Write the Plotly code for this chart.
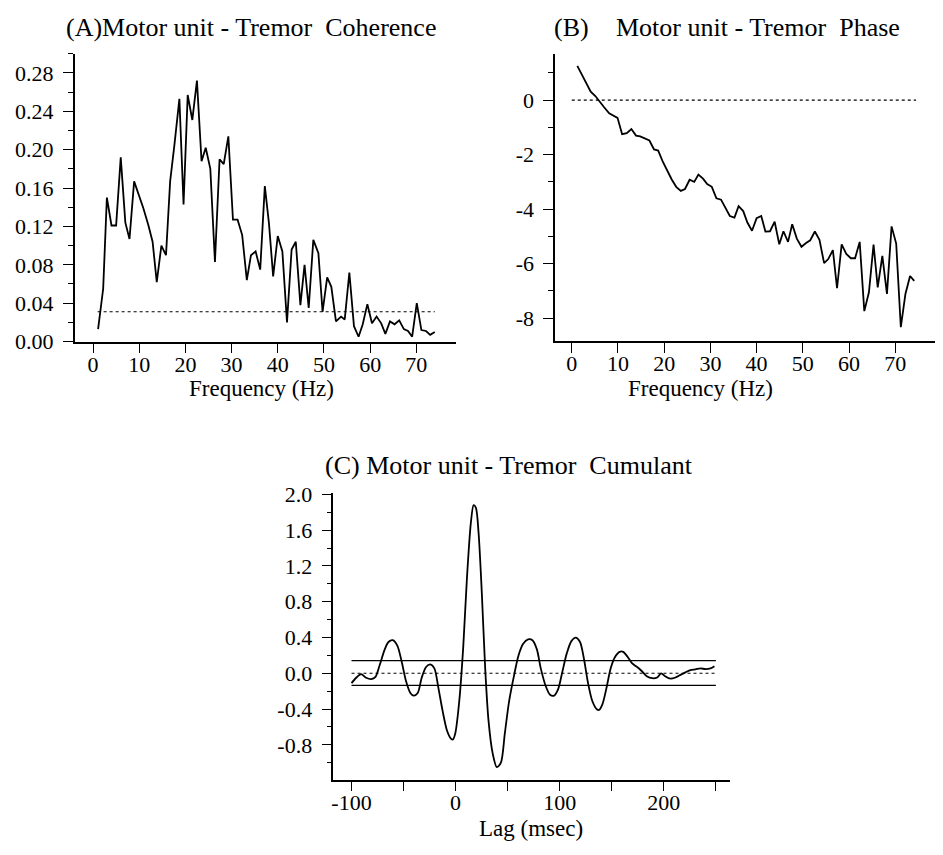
import plotly.graph_objects as go

W, H = 943, 855

# ---------------- data ----------------
coh_freq = [1.1, 2.2, 3.0, 4.0, 5.0, 6.0, 7.0, 7.9, 8.9, 9.9,
            10.9, 12.0, 12.9, 13.8, 14.8, 15.8, 16.7, 17.6, 18.7, 19.6,
            20.5, 21.5, 22.5, 23.5, 24.4, 25.4, 26.4, 27.4, 28.3, 29.3,
            30.3, 31.3, 32.3, 33.3, 34.2, 35.2, 36.2, 37.2, 38.1, 39.0,
            40.0, 41.0, 42.0, 43.0, 43.9, 44.9, 45.8, 46.7, 47.7, 48.8,
            49.7, 50.7, 51.6, 52.6, 53.7, 54.5, 55.5, 56.5, 57.5, 58.4,
            59.4, 60.4, 61.4, 62.4, 63.3, 64.3, 65.3, 66.3, 67.3, 68.2,
            69.1, 70.1, 71.1, 72.1, 73.0, 74.0]
coh_vals = [0.013, 0.055, 0.150, 0.121, 0.121, 0.192, 0.124, 0.107, 0.167, 0.153,
            0.139, 0.121, 0.104, 0.062, 0.100, 0.090, 0.167, 0.204, 0.253, 0.143,
            0.257, 0.231, 0.272, 0.188, 0.202, 0.180, 0.083, 0.190, 0.185, 0.214,
            0.127, 0.127, 0.111, 0.064, 0.090, 0.094, 0.075, 0.162, 0.123, 0.068,
            0.110, 0.094, 0.020, 0.096, 0.104, 0.038, 0.080, 0.035, 0.106, 0.092,
            0.031, 0.067, 0.057, 0.021, 0.026, 0.023, 0.072, 0.016, 0.005, 0.018,
            0.039, 0.019, 0.026, 0.019, 0.008, 0.021, 0.018, 0.022, 0.013, 0.011,
            0.005, 0.040, 0.012, 0.011, 0.007, 0.010]
coh_limit = 0.031
coh_limit_x = [1.0, 74.0]

phase_freq = [1.2, 2.2, 3.2, 4.1, 5.1, 6.1, 7.0, 8.1, 9.0, 9.9,
              10.9, 11.9, 12.9, 13.9, 14.8, 15.8, 16.8, 17.8, 18.7, 19.7,
              20.6, 21.6, 22.6, 23.6, 24.5, 25.5, 26.5, 27.4, 28.4, 29.3,
              30.3, 31.3, 32.3, 33.2, 34.2, 35.2, 36.1, 37.1, 38.0, 39.0,
              40.0, 41.0, 41.9, 42.9, 43.9, 44.9, 45.8, 46.8, 47.7, 48.7,
              49.7, 50.7, 51.6, 52.6, 53.6, 54.6, 55.5, 56.5, 57.4, 58.4,
              59.4, 60.4, 61.3, 62.3, 63.3, 64.3, 65.3, 66.2, 67.2, 68.2,
              69.2, 70.2, 71.2, 72.2, 73.2, 74.1]
phase_vals = [1.26, 0.93, 0.60, 0.31, 0.15, -0.08, -0.26, -0.48, -0.56, -0.65,
              -1.25, -1.21, -1.06, -1.30, -1.33, -1.42, -1.48, -1.81, -1.85, -2.26,
              -2.58, -2.90, -3.18, -3.33, -3.26, -2.92, -3.00, -2.73, -2.88, -3.08,
              -3.18, -3.60, -3.65, -3.95, -4.25, -4.31, -3.89, -4.07, -4.49, -4.79,
              -4.33, -4.25, -4.82, -4.81, -4.46, -5.29, -4.81, -5.20, -4.55, -5.08,
              -5.38, -5.24, -5.14, -4.82, -5.12, -5.98, -5.83, -5.50, -6.90, -5.29,
              -5.64, -5.80, -5.80, -5.20, -7.74, -7.05, -5.30, -6.87, -5.71, -7.11,
              -4.63, -5.26, -8.33, -7.11, -6.45, -6.63]
phase_ref = 0.0
phase_ref_x = [0.0, 74.5]

lag_ms = [-100, -95.5, -90.7, -86, -81, -77, -73, -68, -64.5, -60.4,
          -56, -51.8, -47.6, -43.5, -40.3, -36.4, -32.6, -28.4, -24.3, -20.4,
          -16.6, -12.5, -8.3, -4.5, -2.6, -0.3, 3.5, 7.3, 10.9, 14.7,
          17.3, 19.5, 22.0, 25.2, 28.4, 31.6, 35.5, 39.6, 43.5, 47.3,
          51.4, 56.2, 60.4, 64.9, 69.6, 73.8, 78, 81.8, 86.6, 90.7,
          94.6, 98.4, 102.6, 106.7, 111.2, 115.3, 119.5, 123.3, 127.2, 131.3,
          135.5, 137.7, 140.9, 145, 148.9, 153, 157.5, 161, 165.5, 169.6,
          174.4, 179.2, 184, 188.8, 193.6, 197.4, 201.6, 206.4, 211.2, 216,
          220.8, 225.6, 230.4, 235.2, 240, 244.8, 248.6]
cum_vals = [-0.11, -0.05, -0.01, -0.05, -0.065, -0.04, 0.09, 0.27, 0.35, 0.37,
            0.31, 0.13, -0.09, -0.22, -0.25, -0.22, -0.05, 0.07, 0.10, 0.055,
            -0.16, -0.42, -0.64, -0.73, -0.74, -0.67, -0.31, 0.29, 1.07, 1.69,
            1.88, 1.85, 1.58, 0.89, 0.055, -0.53, -0.89, -1.05, -1.0, -0.67,
            -0.31, -0.02, 0.20, 0.33, 0.38, 0.37, 0.27, 0.055, -0.145, -0.24,
            -0.25, -0.18, 0.02, 0.22, 0.36, 0.40, 0.35, 0.16, -0.11, -0.31,
            -0.40, -0.41, -0.35, -0.16, 0.055, 0.18, 0.24, 0.24, 0.18, 0.11,
            0.07, 0.02, -0.036, -0.055, -0.047, 0.0, -0.036, -0.06, -0.047, -0.018,
            0.01, 0.036, 0.044, 0.055, 0.047, 0.055, 0.08]
cum_upper = 0.142
cum_lower = -0.135
cum_ref_x = [-100, 250]

freq_ticks = [0, 10, 20, 30, 40, 50, 60, 70]
coh_ticks = [0.0, 0.04, 0.08, 0.12, 0.16, 0.20, 0.24, 0.28]
coh_ticktext = ["0.00", "0.04", "0.08", "0.12", "0.16", "0.20", "0.24", "0.28"]
phase_ticks = [0, -2, -4, -6, -8]
phase_ticktext = ["0", "-2", "-4", "-6", "-8"]
cum_ticks = [-0.8, -0.4, 0.0, 0.4, 0.8, 1.2, 1.6, 2.0]
cum_ticktext = ["-0.8", "-0.4", "0.0", "0.4", "0.8", "1.2", "1.6", "2.0"]
lag_ticks = [-100, -50, 0, 50, 100, 150, 200, 250]
lag_ticktext = ["-100", "", "0", "", "100", "", "200", ""]

titles = {
    "A": "(A)Motor unit - Tremor\u00a0\u00a0Coherence",
    "B_tag": "(B)",
    "B": "Motor unit - Tremor\u00a0\u00a0Phase",
    "C": "(C) Motor unit - Tremor\u00a0\u00a0Cumulant",
}
freq_label = "Frequency (Hz)"
lag_label = "Lag (msec)"

# ---------------- figure ----------------
FONT = "Liberation Serif, Times New Roman, serif"
LINE = dict(color="black", width=1.8)
DASH = dict(color="black", width=1.1, dash="3px,3px")


def px_x(p):
    return p / W


def px_y(p):
    return 1 - p / H


fig = go.Figure()

# Panel A
fig.add_trace(go.Scatter(x=coh_freq, y=coh_vals, mode="lines", line=LINE,
                         xaxis="x", yaxis="y", showlegend=False))
fig.add_trace(go.Scatter(x=coh_limit_x, y=[coh_limit] * 2, mode="lines", line=DASH,
                         xaxis="x", yaxis="y", showlegend=False))
# Panel B
fig.add_trace(go.Scatter(x=phase_freq, y=phase_vals, mode="lines", line=LINE,
                         xaxis="x2", yaxis="y2", showlegend=False))
fig.add_trace(go.Scatter(x=phase_ref_x, y=[phase_ref] * 2, mode="lines", line=DASH,
                         xaxis="x2", yaxis="y2", showlegend=False))
# Panel C
fig.add_trace(go.Scatter(x=lag_ms, y=cum_vals, mode="lines",
                         line=dict(color="black", width=1.8, shape="spline", smoothing=0.8),
                         xaxis="x3", yaxis="y3", showlegend=False))
fig.add_trace(go.Scatter(x=cum_ref_x, y=[cum_upper] * 2, mode="lines",
                         line=dict(color="black", width=1.4),
                         xaxis="x3", yaxis="y3", showlegend=False))
fig.add_trace(go.Scatter(x=cum_ref_x, y=[cum_lower] * 2, mode="lines",
                         line=dict(color="black", width=1.4),
                         xaxis="x3", yaxis="y3", showlegend=False))
fig.add_trace(go.Scatter(x=cum_ref_x, y=[0, 0], mode="lines", line=DASH,
                         xaxis="x3", yaxis="y3", showlegend=False))

tickfont = dict(family=FONT, size=22, color="black")
common = dict(showline=True, linecolor="black", linewidth=1.5, ticks="outside",
              ticklen=10, tickwidth=1.4, tickcolor="black", showgrid=False,
              zeroline=False, tickfont=tickfont, mirror=False, fixedrange=True)
xcommon = dict(common, ticklabelstandoff=-8)
ycommon = dict(common, ticklabelstandoff=5)
minor = dict(ticks="outside", ticklen=5, tickwidth=1.2, tickcolor="black", showgrid=False)

fig.update_layout(
    width=W, height=H,
    margin=dict(l=0, r=0, t=0, b=0),
    paper_bgcolor="white", plot_bgcolor="white",
    font=dict(family=FONT, color="black"),
    xaxis=dict(domain=[px_x(72.7), px_x(455)], range=[-4, 78.6], anchor="y",
               tickmode="array", tickvals=freq_ticks, **xcommon),
    yaxis=dict(domain=[px_y(340.7), px_y(45)], range=[0, 0.30], anchor="x",
               tickmode="array", tickvals=coh_ticks, ticktext=coh_ticktext,
               minor=dict(tickmode="linear", tick0=0, dtick=0.02, **minor), **ycommon),
    xaxis2=dict(domain=[px_x(554.3), px_x(935)], range=[-3.6, 78.6], anchor="y2",
                tickmode="array", tickvals=freq_ticks, **xcommon),
    yaxis2=dict(domain=[px_y(340), px_y(45)], range=[-8.83, 1.70], anchor="x2",
                tickmode="array", tickvals=phase_ticks, ticktext=phase_ticktext,
                minor=dict(tickmode="linear", tick0=0, dtick=1, **minor), **ycommon),
    xaxis3=dict(domain=[px_x(332), px_x(730)], range=[-117.5, 264], anchor="y3",
                tickmode="array", tickvals=lag_ticks, ticktext=lag_ticktext, **xcommon),
    yaxis3=dict(domain=[px_y(791), px_y(496)], range=[-1.19, 2.02], anchor="x3",
                tickmode="array", tickvals=cum_ticks, ticktext=cum_ticktext,
                minor=dict(tickmode="linear", tick0=0, dtick=0.2, **minor), **ycommon),
)

tfont = dict(family=FONT, size=26, color="black")
afont = dict(family=FONT, size=23, color="black")
ann = [
    dict(text=titles["A"], x=px_x(62), y=px_y(18), xanchor="left", yanchor="middle", font=tfont),
    dict(text=titles["B_tag"], x=px_x(551), y=px_y(18), xanchor="left", yanchor="middle", font=tfont),
    dict(text=titles["B"], x=px_x(613), y=px_y(18), xanchor="left", yanchor="middle", font=tfont),
    dict(text=titles["C"], x=px_x(322), y=px_y(468), xanchor="left", yanchor="middle", font=tfont),
    dict(text=freq_label, x=px_x(260), y=px_y(389), xanchor="center", yanchor="middle", font=afont),
    dict(text=freq_label, x=px_x(700), y=px_y(389), xanchor="center", yanchor="middle", font=afont),
    dict(text=lag_label, x=px_x(530), y=px_y(841), xanchor="center", yanchor="middle", font=afont),
]
for a in ann:
    a.update(xref="paper", yref="paper", showarrow=False)
fig.update_layout(annotations=ann)

fig.write_html("out.html")
